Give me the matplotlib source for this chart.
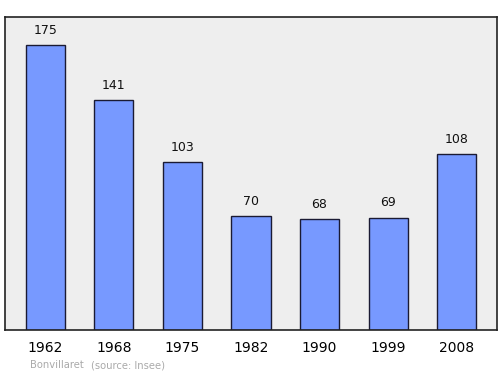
import matplotlib
matplotlib.use("Agg")
import matplotlib.pyplot as plt

years = ["1962", "1968", "1975", "1982", "1990", "1999", "2008"]
population = [175, 141, 103, 70, 68, 69, 108]

fig = plt.figure(figsize=(5, 3.74), dpi=100)
ax = fig.add_axes([5 / 500, 1 - 330 / 374, 492 / 500, 313 / 374])
ax.set_facecolor("#eeeeee")

x = range(len(years))
ax.bar(x, population, width=0.57, color="#7799ff", edgecolor="#1a1a33", linewidth=1)
for i, v in enumerate(population):
    ax.text(i, v + 5, str(v), ha="center", va="bottom", fontsize=9, color="#111111")

ax.set_xlim(-0.59, 6.59)
ax.set_ylim(0, 192.2)
ax.set_yticks([])
ax.set_xticks(list(x))
ax.set_xticklabels(years, fontsize=10)
ax.tick_params(axis="x", length=0, pad=8)
for s in ax.spines.values():
    s.set_linewidth(1.2)
    s.set_color("#222222")

fig.text(30 / 500, 1 - 365 / 374, "Bonvillaret", fontsize=7.2,
         color="#aaaaaa", va="center", ha="left")
fig.text(91 / 500, 1 - 365 / 374, "(source: Insee)", fontsize=7.2,
         color="#aaaaaa", va="center", ha="left")

fig.savefig("out.png", dpi=100)
